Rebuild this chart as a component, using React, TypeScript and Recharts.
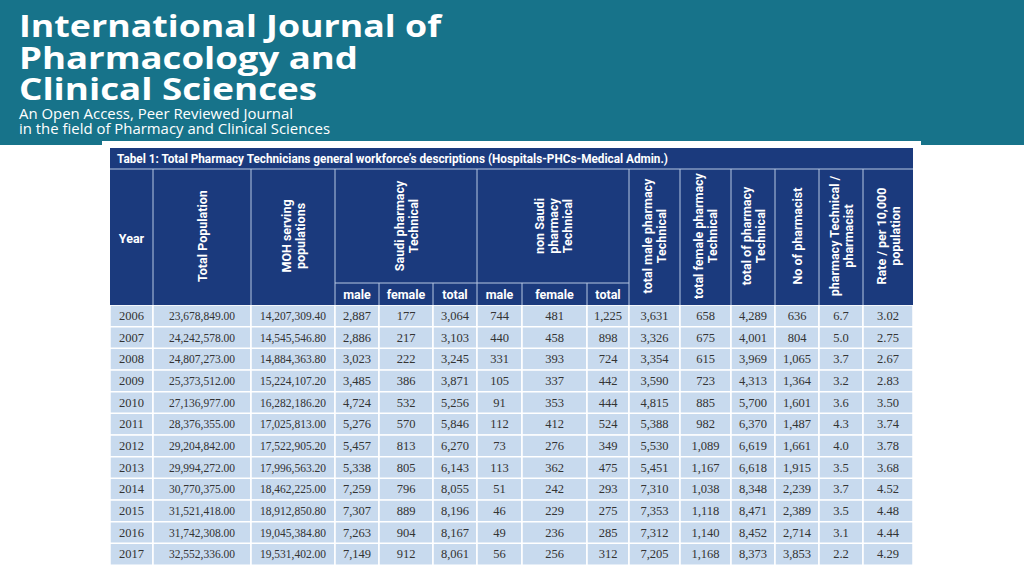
import React from 'react';
import { BarChart, Bar, XAxis, YAxis, LabelList } from 'recharts';

const years = [2006, 2007, 2008, 2009, 2010, 2011, 2012, 2013, 2014, 2015, 2016, 2017];
const totalPopulation = [
  23678849, 24242578, 24807273, 25373512, 27136977, 28376355, 29204842, 29994272, 30770375,
  31521418, 31742308, 32552336,
];
const mohPopulation = [
  14207309.4, 14545546.8, 14884363.8, 15224107.2, 16282186.2, 17025813.0, 17522905.2, 17996563.2,
  18462225.0, 18912850.8, 19045384.8, 19531402.0,
];
const saudiMale = [2887, 2886, 3023, 3485, 4724, 5276, 5457, 5338, 7259, 7307, 7263, 7149];
const saudiFemale = [177, 217, 222, 386, 532, 570, 813, 805, 796, 889, 904, 912];
const saudiTotal = [3064, 3103, 3245, 3871, 5256, 5846, 6270, 6143, 8055, 8196, 8167, 8061];
const nonSaudiMale = [744, 440, 331, 105, 91, 112, 73, 113, 51, 46, 49, 56];
const nonSaudiFemale = [481, 458, 393, 337, 353, 412, 276, 362, 242, 229, 236, 256];
const nonSaudiTotal = [1225, 898, 724, 442, 444, 524, 349, 475, 293, 275, 285, 312];
const totalMale = [3631, 3326, 3354, 3590, 4815, 5388, 5530, 5451, 7310, 7353, 7312, 7205];
const totalFemale = [658, 675, 615, 723, 885, 982, 1089, 1167, 1038, 1118, 1140, 1168];
const totalTechnical = [4289, 4001, 3969, 4313, 5700, 6370, 6619, 6618, 8348, 8471, 8452, 8373];
const pharmacists = [636, 804, 1065, 1364, 1601, 1487, 1661, 1915, 2239, 2389, 2714, 3853];
const techPerPharmacist = [6.7, 5.0, 3.7, 3.2, 3.6, 4.3, 4.0, 3.5, 3.7, 3.5, 3.1, 2.2];
const ratePer10k = [3.02, 2.75, 2.67, 2.83, 3.5, 3.74, 3.78, 3.68, 4.52, 4.48, 4.44, 4.29];

const TITLE = 'Tabel 1: Total Pharmacy Technicians general workforce\u2019s descriptions (Hospitals-PHCs-Medical Admin.)';

// layout
const COL_W = [43, 98, 84, 44, 54, 44, 45, 65, 42, 51, 51, 44, 44, 44, 50];
const TABLE_X = 110;
const TABLE_W = COL_W.reduce((a, b) => a + b, 0);
const TITLE_TOP = 148;
const HEAD_TOP = 169;
const SUB_TOP = 283;
const BODY_TOP = 305;
const BODY_H = 260;

const NAVY = '#1b3a7d';
const TEAL = '#17738a';
const CELL = '#c8daee';
const RULE = '#b7c7e3';

const int = (v: number) => v.toLocaleString('en-US');
const fixed = (d: number) => (v: number) =>
  v.toLocaleString('en-US', { minimumFractionDigits: d, maximumFractionDigits: d });

const columns = [
  { values: years, fmt: (v: number) => String(v) },
  { values: totalPopulation, fmt: fixed(2), fit: 66 },
  { values: mohPopulation, fmt: fixed(2), fit: 66 },
  { values: saudiMale, fmt: int },
  { values: saudiFemale, fmt: int },
  { values: saudiTotal, fmt: int },
  { values: nonSaudiMale, fmt: int },
  { values: nonSaudiFemale, fmt: int },
  { values: nonSaudiTotal, fmt: int },
  { values: totalMale, fmt: int },
  { values: totalFemale, fmt: int },
  { values: totalTechnical, fmt: int },
  { values: pharmacists, fmt: int },
  { values: techPerPharmacist, fmt: fixed(1) },
  { values: ratePer10k, fmt: fixed(2) },
];

const rows = years.map((y, i) => {
  const r: Record<string, number | string> = { year: String(y) };
  columns.forEach((c, j) => {
    r[`v${j}`] = c.values[i];
    r[`w${j}`] = COL_W[j];
  });
  return r;
});

const edges = COL_W.reduce<number[]>((acc, w) => [...acc, acc[acc.length - 1] + w], [TABLE_X]);

// header labels: [first col, last col, lines]
const headers: [number, number, string[]][] = [
  [1, 1, ['Total Population']],
  [2, 2, ['MOH serving', 'populations']],
  [3, 5, ['Saudi pharmacy', 'Technical']],
  [6, 8, ['non Saudi', 'pharmacy', 'Technical']],
  [9, 9, ['total male pharmacy', 'Technical']],
  [10, 10, ['total female pharmacy', 'Technical']],
  [11, 11, ['total of pharmacy', 'Technical']],
  [12, 12, ['No of pharmacist']],
  [13, 13, ['pharmacy Technical /', 'pharmacist']],
  [14, 14, ['Rate / per 10,000', 'population']],
];
const subHeaders = ['male', 'female', 'total', 'male', 'female', 'total'];

const headFont = { fontFamily: 'Roboto, sans-serif', fontWeight: 700, fontSize: 12.5, fill: '#fff' };

const renderCell = (p: any, col: (typeof columns)[number]) => {
  const vb = p.viewBox || p;
  const x = Number(vb.x);
  const y = Number(vb.y);
  const w = Number(vb.width);
  const h = Number(vb.height);
  return (
    <text
      x={x + w / 2}
      y={y + h / 2}
      textAnchor="middle"
      dominantBaseline="central"
      fontFamily="'Liberation Serif', 'Times New Roman', serif"
      fontSize={12.5}
      fill="#333"
      textLength={col.fit}
      lengthAdjust={col.fit ? 'spacingAndGlyphs' : undefined}
    >
      {col.fmt(Number(p.value))}
    </text>
  );
};

const Frame = () => {
  const fullLines = [1, 2, 3, 6, 9, 10, 11, 12, 13, 14];
  const subLines = [4, 5, 7, 8];
  return (
    <svg width={1024} height={576} style={{ position: 'absolute', left: 0, top: 0 }}>
      <rect x={0} y={0} width={1024} height={145} fill={TEAL} />
      <g fill="#fff" fontFamily="'Open Sans', sans-serif">
        <text x={19} y={37} fontSize={30} fontWeight={700} textLength={422} lengthAdjust="spacingAndGlyphs">
          International Journal of
        </text>
        <text x={19} y={69} fontSize={30} fontWeight={700} textLength={339} lengthAdjust="spacingAndGlyphs">
          Pharmacology and
        </text>
        <text x={19} y={100} fontSize={30} fontWeight={700} textLength={298} lengthAdjust="spacingAndGlyphs">
          Clinical Sciences
        </text>
        <text x={19} y={119} fontSize={14.5} textLength={274} lengthAdjust="spacingAndGlyphs">
          An Open Access, Peer Reviewed Journal
        </text>
        <text x={19} y={134} fontSize={14.5} textLength={311} lengthAdjust="spacingAndGlyphs">
          in the field of Pharmacy and Clinical Sciences
        </text>
      </g>
      <rect x={102} y={141} width={819} height={435} fill="#fff" />

      <rect x={TABLE_X} y={TITLE_TOP} width={TABLE_W} height={BODY_TOP - TITLE_TOP} fill={NAVY} />
      <text
        x={117}
        y={(TITLE_TOP + HEAD_TOP) / 2}
        dominantBaseline="central"
        {...headFont}
        fontSize={12.5}
        textLength={551}
        lengthAdjust="spacingAndGlyphs"
      >
        {TITLE}
      </text>

      <g stroke={RULE} strokeWidth={1}>
        <line x1={TABLE_X} x2={TABLE_X + TABLE_W} y1={HEAD_TOP} y2={HEAD_TOP} />
        <line x1={edges[3]} x2={edges[9]} y1={SUB_TOP} y2={SUB_TOP} />
        {fullLines.map((j) => (
          <line key={j} x1={edges[j]} x2={edges[j]} y1={HEAD_TOP} y2={BODY_TOP} />
        ))}
        {subLines.map((j) => (
          <line key={j} x1={edges[j]} x2={edges[j]} y1={SUB_TOP} y2={BODY_TOP} />
        ))}
      </g>

      <text x={(edges[0] + edges[1]) / 2} y={238} textAnchor="middle" dominantBaseline="central" {...headFont}>
        Year
      </text>
      {headers.map(([a, b, lines]) => {
        const cx = (edges[a] + edges[b + 1]) / 2;
        const grouped = b > a;
        const cy = grouped ? (HEAD_TOP + SUB_TOP) / 2 : 236;
        return lines.map((line, k) => (
          <text
            key={`${a}-${k}`}
            transform={`translate(${cx + (k - (lines.length - 1) / 2) * 14}, ${cy}) rotate(-90)`}
            textAnchor="middle"
            dominantBaseline="central"
            {...headFont}
          >
            {line}
          </text>
        ));
      })}
      {subHeaders.map((s, k) => (
        <text
          key={k}
          x={(edges[k + 3] + edges[k + 4]) / 2}
          y={(SUB_TOP + BODY_TOP) / 2}
          textAnchor="middle"
          dominantBaseline="central"
          {...headFont}
        >
          {s}
        </text>
      ))}
    </svg>
  );
};

export default function App() {
  return (
    <div
      style={{
        position: 'absolute',
        left: 0,
        top: 0,
        width: 1024,
        height: 576,
        background: '#fff',
        overflow: 'hidden',
      }}
    >
      <Frame />
      <div style={{ position: 'absolute', left: TABLE_X, top: BODY_TOP }}>
        <BarChart
          width={TABLE_W}
          height={BODY_H}
          data={rows}
          layout="vertical"
          barCategoryGap={0}
          margin={{ top: 0, right: 0, bottom: 0, left: 0 }}
        >
          <XAxis type="number" hide domain={[0, TABLE_W]} />
          <YAxis type="category" dataKey="year" hide />
          {columns.map((c, j) => (
            <Bar
              key={j}
              dataKey={`w${j}`}
              stackId="t"
              fill={CELL}
              stroke="#fff"
              strokeWidth={1.5}
              isAnimationActive={false}
            >
              <LabelList dataKey={`v${j}`} content={(p: any) => renderCell(p, c)} />
            </Bar>
          ))}
        </BarChart>
      </div>
    </div>
  );
}
